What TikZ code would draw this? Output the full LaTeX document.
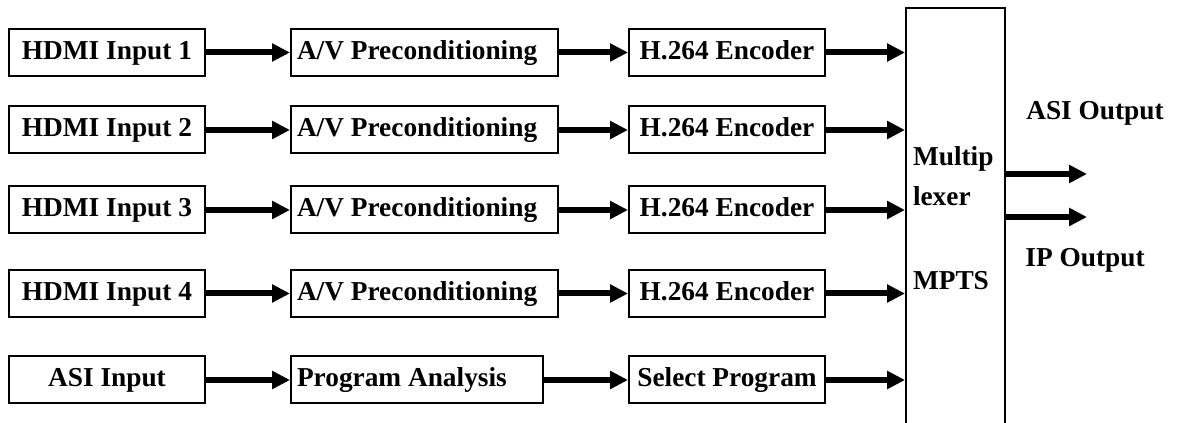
\documentclass[tikz,border=0pt]{standalone}
\usepackage{fontspec}
\setmainfont{Liberation Serif}
\usetikzlibrary{arrows.meta,positioning}

\begin{document}
\begin{tikzpicture}[
  x=0.75pt, y=-0.75pt,
  node distance=10mm and 63pt,
  block/.style={draw, line width=1.5pt, minimum width=147pt, minimum height=35.25pt, inner sep=2pt, text height=14.5pt, text depth=4pt, font=\fontsize{20.5}{29.25}\selectfont\bfseries},
  prep/.style={block, minimum width=200.25pt, text width=191.25pt, inner xsep=4.5pt, align=flush left},
  mux/.style={draw, line width=1.5pt, minimum width=74.25pt, minimum height=315pt, text width=63.75pt, inner xsep=5.25pt, align=flush left, font=\fontsize{20.5}{30}\selectfont\bfseries},
  label/.style={font=\fontsize{20.5}{24}\selectfont\bfseries},
  arrow/.style={-{Triangle[length=13.5pt,width=13pt]}, line width=4.5pt}
]
  \useasboundingbox (0,0) rectangle (1178,423);

  \node[block] (hdmi1) at (107,52.5) {HDMI Input 1};
  \node[block] (hdmi2) at (107,130) {HDMI Input 2};
  \node[block] (hdmi3) at (107,210) {HDMI Input 3};
  \node[block] (hdmi4) at (107,293.5) {HDMI Input 4};
  \node[block] (asiin) at (107,380) {ASI Input};

  \node[prep, right=of hdmi1] (pre1) {A/V Preconditioning};
  \node[prep, right=of hdmi2] (pre2) {A/V Preconditioning};
  \node[prep, right=of hdmi3] (pre3) {A/V Preconditioning};
  \node[prep, right=of hdmi4] (pre4) {A/V Preconditioning};
  \node[prep, minimum width=189pt, text width=180pt, right=of asiin] (progana) {Program Analysis};

  \node[block, right=51.75pt of pre1] (enc1) {H.264 Encoder};
  \node[block, right=51.75pt of pre2] (enc2) {H.264 Encoder};
  \node[block, right=51.75pt of pre3] (enc3) {H.264 Encoder};
  \node[block, right=51.75pt of pre4] (enc4) {H.264 Encoder};
  \node[block, right=of progana] (selprog) {Select Program};

  \node[mux, anchor=north west] (mux) at (905,7) {Multip\\lexer\\[33pt]MPTS};

  \coordinate (asiout) at (1087,174);
  \coordinate (ipout) at (1087,217);
  \node[label] (asilabel) at (1095,113) {ASI Output};
  \node[label] (iplabel) at (1085,260) {IP Output};

  \draw[arrow] (hdmi1) -- (pre1);
  \draw[arrow] (hdmi2) -- (pre2);
  \draw[arrow] (hdmi3) -- (pre3);
  \draw[arrow] (hdmi4) -- (pre4);
  \draw[arrow] (asiin) -- (progana);

  \draw[arrow] (pre1) -- (enc1);
  \draw[arrow] (pre2) -- (enc2);
  \draw[arrow] (pre3) -- (enc3);
  \draw[arrow] (pre4) -- (enc4);
  \draw[arrow] (progana) -- (selprog);

  \draw[arrow] (enc1) -- (enc1 -| mux.west);
  \draw[arrow] (enc2) -- (enc2 -| mux.west);
  \draw[arrow] (enc3) -- (enc3 -| mux.west);
  \draw[arrow] (enc4) -- (enc4 -| mux.west);
  \draw[arrow] (selprog) -- (selprog -| mux.west);

  \draw[arrow] (mux.east |- asiout) -- (asiout);
  \draw[arrow] (mux.east |- ipout) -- (ipout);
\end{tikzpicture}
\end{document}
